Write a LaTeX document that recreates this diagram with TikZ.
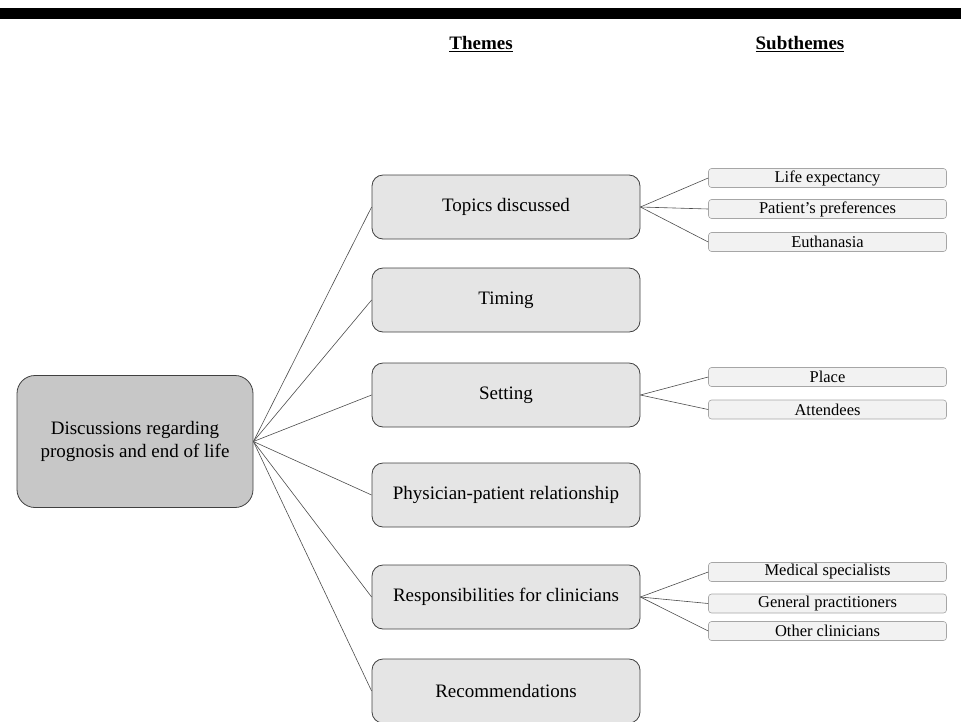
\documentclass[tikz,border=0pt]{standalone}
\usepackage{fontspec}
\setmainfont{Liberation Serif}
\begin{document}
\begin{tikzpicture}[x=1pt,y=-1pt,
  mainbox/.style={draw=black!75, fill=black!22, rounded corners=18pt, line width=0.8pt, minimum width=236pt, minimum height=132pt, align=center, font=\fontsize{19}{22.5}\selectfont, inner sep=0pt},
  themebox/.style={draw=black!75, fill=black!10, rounded corners=11pt, line width=0.8pt, minimum width=268pt, minimum height=64pt, font=\fontsize{19}{22}\selectfont, inner sep=0pt},
  subbox/.style={draw=black!35, fill=black!5, rounded corners=3pt, line width=0.6pt, minimum width=238pt, minimum height=19pt, font=\fontsize{16.5}{19}\selectfont, inner sep=0pt},
  hdr/.style={font=\bfseries\fontsize{19}{22}\selectfont},
  link/.style={draw=black!70, line width=0.6pt}]
\useasboundingbox (0,0) rectangle (961,721);
\clip (0,0) rectangle (961,721);
\fill[black] (0,8) rectangle (961,19);
\node[hdr] (hthemes) at (481,44) {\underline{Themes}};
\node[hdr] (hsub) at (800,44) {\underline{Subthemes}};
\node[mainbox] (main) at (135,441.5) {Discussions regarding\\prognosis and end of life};
\node[themebox] (t1) at (506,207) {Topics discussed};
\node[themebox] (t2) at (506,300) {Timing};
\node[themebox] (t3) at (506,395) {Setting};
\node[themebox] (t4) at (506,495) {Physician-patient relationship};
\node[themebox] (t5) at (506,597) {Responsibilities for clinicians};
\node[themebox] (t6) at (506,691) {Recommendations};
\node[subbox] (s1) at (827.5,178) {Life expectancy};
\node[subbox] (s2) at (827.5,209) {Patient’s preferences};
\node[subbox] (s3) at (827.5,242) {Euthanasia};
\node[subbox] (s4) at (827.5,377) {Place};
\node[subbox] (s5) at (827.5,409.5) {Attendees};
\node[subbox] (s6) at (827.5,572) {Medical specialists};
\node[subbox] (s7) at (827.5,603.5) {General practitioners};
\node[subbox] (s8) at (827.5,631) {Other clinicians};
\coordinate (m) at (main.east);
\foreach \t in {t1,t2,t3,t4,t5,t6} \draw[link] (m) -- (\t.west);
\foreach \s in {s1,s2,s3} \draw[link] (t1.east) -- (\s.west);
\foreach \s in {s4,s5} \draw[link] (t3.east) -- (\s.west);
\foreach \s in {s6,s7,s8} \draw[link] (t5.east) -- (\s.west);
\end{tikzpicture}
\end{document}
